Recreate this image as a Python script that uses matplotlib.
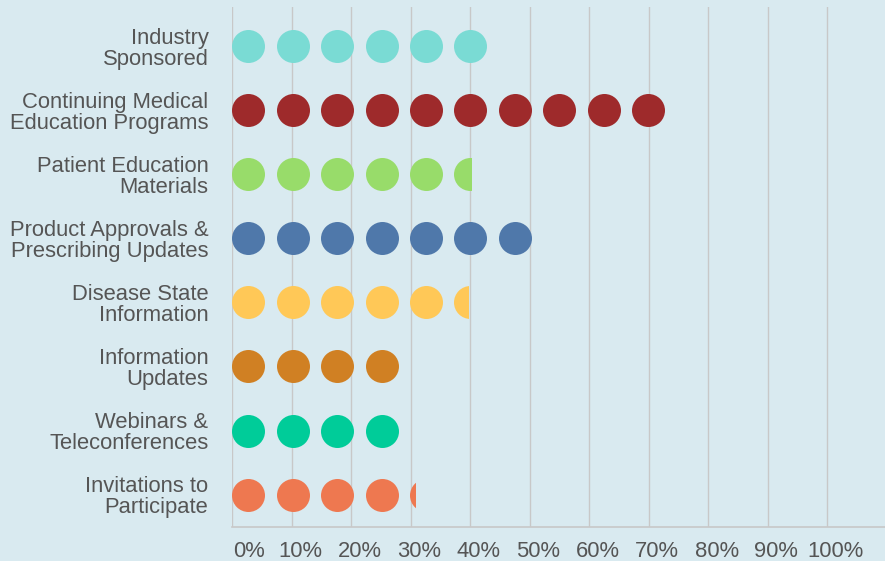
import numpy as np
import matplotlib
matplotlib.use("Agg")
import matplotlib.pyplot as plt
from matplotlib.patches import Rectangle
from matplotlib.transforms import ScaledTranslation

categories = [
    "Industry\nSponsored",
    "Continuing Medical\nEducation Programs",
    "Patient Education\nMaterials",
    "Product Approvals &\nPrescribing Updates",
    "Disease State\nInformation",
    "Information\nUpdates",
    "Webinars &\nTeleconferences",
    "Invitations to\nParticipate",
]
values = [44, 73, 40.1, 51, 39.6, 29, 29, 30.8]
colors = ["#7ADBD4", "#9E2A2B", "#98DC6A", "#4F78AA",
          "#FFC857", "#D08023", "#00CC99", "#EE7850"]
xticks = list(range(0, 101, 10))
xticklabels = [f"{t}%" for t in xticks]

plt.rcParams['font.family'] = ['Liberation Sans', 'DejaVu Sans']

BG = "#D9EAF0"
GRID = "#C8C8C8"
TXT = "#555555"

fig = plt.figure(figsize=(8.85, 5.61), dpi=100, facecolor=BG)
ax = fig.add_axes([232 / 885, (561 - 526.7) / 561, 1 - 232 / 885, (526.7 - 7) / 561])
ax.set_facecolor(BG)

step = 7.455      # spacing between dot starts (data units, %)
diam = 5.54       # dot diameter (data units, %)
dot_pts = 33 * 72 / 100.0  # 33 px diameter in points

for i, (v, c) in enumerate(zip(values, colors)):
    starts = np.arange(0, v, step)
    centers = starts + diam / 2
    sc = ax.scatter(centers, np.full(len(centers), i), s=dot_pts ** 2,
                    color=c, linewidths=0, zorder=3)
    clip = Rectangle((0, i - 0.5), v, 1.0, transform=ax.transData)
    sc.set_clip_path(clip)

ax.set_xlim(0, 109.7)
ax.set_ylim(7.5, -0.61)
ax.set_xticks(xticks)
ax.set_xticklabels(xticklabels)
ax.set_yticks(range(len(categories)))
ax.set_yticklabels(categories, linespacing=1.0)
ax.grid(axis='x', color=GRID, linewidth=1.0, zorder=1)
ax.set_axisbelow(True)

for s in ["top", "right", "left"]:
    ax.spines[s].set_visible(False)
ax.spines["bottom"].set_color(GRID)
ax.spines["bottom"].set_linewidth(1.2)

ax.tick_params(axis='x', length=0, pad=10, labelsize=15.8, labelcolor=TXT)
ax.tick_params(axis='y', length=0, pad=17, labelsize=15.8, labelcolor=TXT)

# shift x tick labels slightly right of their gridlines, as in the reference
for k, lab in enumerate(ax.get_xticklabels()):
    if k == 0:
        lab.set_horizontalalignment('left')
        off = ScaledTranslation(1 / 100, 0, fig.dpi_scale_trans)
    else:
        off = ScaledTranslation(8.5 / 100, 0, fig.dpi_scale_trans)
    lab.set_transform(lab.get_transform() + off)

fig.savefig("out.png", dpi=100, facecolor=BG)
